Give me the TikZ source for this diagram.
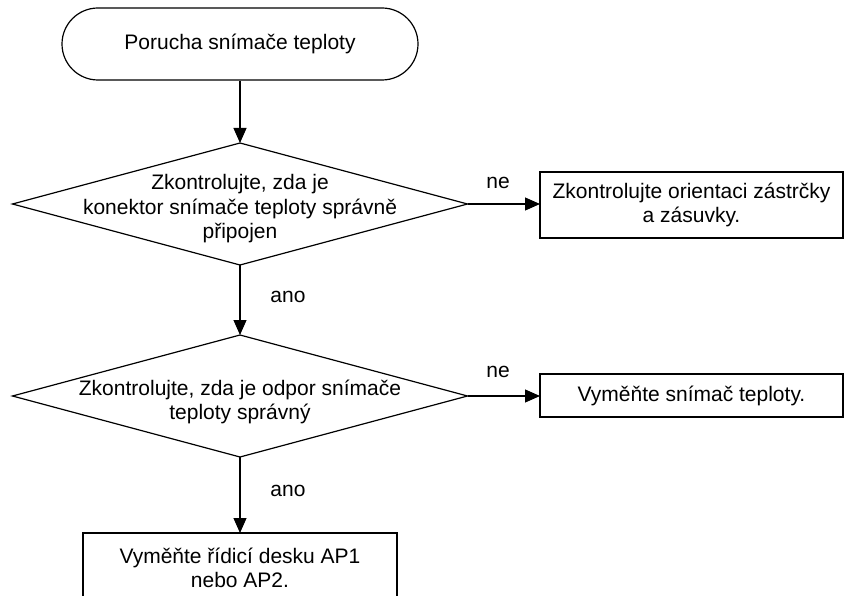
\documentclass[tikz,border=0pt]{standalone}
\usepackage{fontspec}
\setmainfont{Liberation Sans}
\usetikzlibrary{shapes.geometric,arrows.meta}
\begin{document}
\begin{tikzpicture}[x=1pt,y=-1pt,
  every node/.style={font=\fontsize{21}{24.5}\selectfont, align=center},
  ln/.style={line width=1.2pt},
  arr/.style={ln,-{Triangle[length=15pt,width=13pt]}},
  term/.style={draw,ln,rectangle,rounded corners=36pt,minimum width=356pt,minimum height=72pt,inner sep=0pt},
  dec/.style={draw,ln,diamond,minimum width=455pt,minimum height=122pt,inner sep=0pt,outer sep=0pt},
  proc/.style={draw,ln,rectangle,inner sep=0pt,outer sep=0pt},
  lbl/.style={inner sep=0pt}]
\useasboundingbox (0,0) rectangle (845,596);
\node[term] (t) at (240,44) {Porucha snímače teploty};
\node[dec] (d1) at (240,204) {};
\node (d1t) at (240,209) {Zkontrolujte, zda je\\konektor snímače teploty správně\\připojen};
\node[proc,minimum width=303pt,minimum height=66pt] (b1) at (691.5,205) {Zkontrolujte orientaci zástrčky\\a zásuvky.};
\node[dec] (d2) at (240,396) {};
\node (d2t) at (240,402) {Zkontrolujte, zda je odpor snímače\\teploty správný};
\node[proc,minimum width=303pt,minimum height=43pt] (b2) at (691.5,395.5) {Vyměňte snímač teploty.};
\node[proc,minimum width=314pt,minimum height=70pt] (b3) at (240,568) {Vyměňte řídicí desku AP1\\nebo AP2.};
\node[lbl] (ne1) at (498,183) {ne};
\node[lbl] (ne2) at (498,372) {ne};
\node[lbl] (ano1) at (288,297) {ano};
\node[lbl] (ano2) at (288,491) {ano};
\draw[arr] (t.south) -- (d1.north);
\draw[arr] (d1.east) -- (d1.east -| b1.west);
\draw[arr] (d1.south) -- (d2.north);
\draw[arr] (d2.east) -- (d2.east -| b2.west);
\draw[arr] (d2.south) -- (b3.north);
\end{tikzpicture}
\end{document}
